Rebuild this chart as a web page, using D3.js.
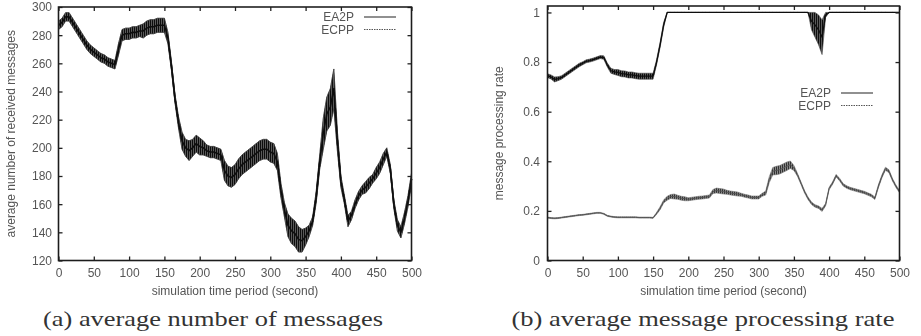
<!DOCTYPE html>
<html>
<head>
<meta charset="utf-8">
<script src="https://cdn.jsdelivr.net/npm/d3@7"></script>
<style>
  html, body { margin: 0; padding: 0; background: #fff; }
  svg { display: block; }
</style>
</head>
<body>
<svg id="chart" width="921" height="336"></svg>
<script>
// one reading every 5 seconds of simulation
const timeSteps = d3.range(0, 501, 5);
const timeTicks = [0, 50, 100, 150, 200, 250, 300, 350, 400, 450, 500];
const msgTicks = [120, 140, 160, 180, 200, 220, 240, 260, 280, 300];
const rateTicks = [0, 0.2, 0.4, 0.6, 0.8, 1];
const seriesNames = ["EA2P", "ECPP"];

// (a) received messages: middle of the noisy trace and half of its spread
const ea2pMsgMid = [
  287, 289, 293, 293, 289, 285, 281, 277, 273, 270,
  268, 266, 264, 263, 261, 260, 259, 270, 280, 281,
  281, 282, 282, 283, 283, 285, 286, 286, 287, 287,
  287, 278, 258, 235, 218, 205, 200, 198, 200, 203,
  201, 200, 198, 197, 197, 196, 195, 184, 180, 179,
  181, 185, 188, 190, 192, 194, 196, 198, 199, 199,
  197, 196, 190, 170, 156, 145, 141, 139, 135, 134,
  137, 141, 148, 165, 190, 210, 224, 229, 242, 205,
  176, 163, 148, 152, 160, 166, 170, 172, 175, 178,
  182, 186, 192, 197, 185, 160, 145, 140, 150, 162,
  178
];
const ea2pMsgSpread = [
  3, 3, 3, 3, 3, 3, 3, 3, 3, 3,
  3, 3, 3, 3, 3, 3, 3, 4, 4, 4,
  4, 4, 4, 4, 5, 5, 5, 5, 5, 5,
  5, 4, 3, 3, 4, 6, 6, 7, 6, 6,
  6, 5, 4, 4, 4, 4, 4, 7, 7, 7,
  7, 7, 7, 7, 7, 7, 7, 7, 7, 7,
  7, 7, 6, 5, 5, 8, 9, 9, 9, 8,
  6, 4, 3, 4, 5, 11, 12, 13, 14, 7,
  4, 3, 4, 3, 3, 3, 3, 4, 4, 3,
  4, 4, 4, 3, 3, 3, 4, 4, 4, 4,
  4
];
// the ECPP trace lies right on top of EA2P in (a)
const ecppMsgMid = ea2pMsgMid;
const ecppMsgSpread = ea2pMsgSpread;

// (b) message processing rate
const ea2pRateMid = [
  0.745, 0.74, 0.73, 0.733, 0.738, 0.748, 0.758, 0.768, 0.778, 0.788,
  0.795, 0.803, 0.806, 0.81, 0.815, 0.82, 0.818, 0.788, 0.765, 0.76,
  0.758, 0.753, 0.752, 0.748, 0.748, 0.745, 0.743, 0.743, 0.743, 0.743,
  0.743, 0.8, 0.87, 0.95, 1, 1, 1, 1, 1, 1,
  1, 1, 1, 1, 1, 1, 1, 1, 1, 1,
  1, 1, 1, 1, 1, 1, 1, 1, 1, 1,
  1, 1, 1, 1, 1, 1, 1, 1, 1, 1,
  1, 1, 1, 1, 1, 0.965, 0.95, 0.93, 0.9, 0.99,
  1, 1, 1, 1, 1, 1, 1, 1, 1, 1,
  1, 1, 1, 1, 1, 1, 1, 1, 1, 1,
  1
];
const ea2pRateSpread = [
  0.008, 0.008, 0.01, 0.008, 0.007, 0.007, 0.007, 0.007, 0.007, 0.007,
  0.006, 0.006, 0.006, 0.006, 0.006, 0.006, 0.007, 0.008, 0.01, 0.01,
  0.012, 0.012, 0.012, 0.012, 0.012, 0.012, 0.012, 0.012, 0.012, 0.012,
  0.012, 0.01, 0.01, 0.01, 0, 0, 0, 0, 0, 0,
  0, 0, 0, 0, 0, 0, 0, 0, 0, 0,
  0, 0, 0, 0, 0, 0, 0, 0, 0, 0,
  0, 0, 0, 0, 0, 0, 0, 0, 0, 0,
  0, 0, 0, 0, 0, 0.035, 0.05, 0.06, 0.07, 0.01,
  0, 0, 0, 0, 0, 0, 0, 0, 0, 0,
  0, 0, 0, 0, 0, 0, 0, 0, 0, 0,
  0
];
const ecppRateMid = [
  0.173, 0.171, 0.17, 0.171, 0.173, 0.175, 0.177, 0.179, 0.181, 0.183,
  0.184, 0.186, 0.188, 0.19, 0.192, 0.192, 0.188, 0.18, 0.177, 0.175,
  0.174, 0.174, 0.174, 0.174, 0.174, 0.174, 0.173, 0.173, 0.173, 0.173,
  0.172, 0.19, 0.211, 0.238, 0.251, 0.258, 0.258, 0.255, 0.251, 0.249,
  0.247, 0.249, 0.251, 0.253, 0.254, 0.256, 0.258, 0.278, 0.282, 0.28,
  0.278, 0.275, 0.272, 0.27, 0.268, 0.265, 0.261, 0.258, 0.254, 0.254,
  0.254, 0.265, 0.272, 0.326, 0.36, 0.363, 0.366, 0.373, 0.38, 0.386,
  0.373, 0.346, 0.312, 0.278, 0.251, 0.231, 0.22, 0.215, 0.204, 0.225,
  0.29, 0.312, 0.342, 0.326, 0.305, 0.296, 0.29, 0.286, 0.282, 0.278,
  0.274, 0.268, 0.262, 0.251, 0.299, 0.339, 0.37, 0.36, 0.326, 0.299,
  0.278
];
const ecppRateSpread = [
  0.002, 0.002, 0.002, 0.002, 0.002, 0.002, 0.002, 0.002, 0.002, 0.002,
  0.002, 0.002, 0.002, 0.002, 0.002, 0.002, 0.002, 0.002, 0.002, 0.002,
  0.002, 0.002, 0.002, 0.002, 0.002, 0.002, 0.002, 0.002, 0.002, 0.002,
  0.002, 0.004, 0.006, 0.006, 0.008, 0.008, 0.01, 0.008, 0.008, 0.008,
  0.006, 0.006, 0.006, 0.006, 0.006, 0.006, 0.006, 0.008, 0.01, 0.01,
  0.01, 0.008, 0.008, 0.008, 0.008, 0.006, 0.006, 0.006, 0.006, 0.006,
  0.006, 0.006, 0.008, 0.012, 0.015, 0.017, 0.017, 0.017, 0.017, 0.015,
  0.01, 0.006, 0.005, 0.005, 0.005, 0.005, 0.005, 0.005, 0.006, 0.005,
  0.005, 0.005, 0.005, 0.005, 0.005, 0.005, 0.005, 0.005, 0.005, 0.005,
  0.005, 0.005, 0.005, 0.005, 0.006, 0.006, 0.006, 0.006, 0.005, 0.005,
  0.005
];

const svg = d3.select("#chart");
const sans = "Liberation Sans, Arial, sans-serif";
const textGrey = "#555";

let defs = svg.append("defs");

// the scan is slightly soft
defs.append("filter")
  .attr("id", "soft")
  .append("feGaussianBlur")
  .attr("stdDeviation", 0.45);

// vertical jitter texture for the noisy bands
function stripes(id, dark, light) {
  let pat = defs.append("pattern")
    .attr("id", id)
    .attr("patternUnits", "userSpaceOnUse")
    .attr("width", 2)
    .attr("height", 4);
  pat.append("rect").attr("width", 2).attr("height", 4).attr("fill", light);
  pat.append("rect").attr("width", 1).attr("height", 4).attr("fill", dark);
}
stripes("jitterDark", "#111", "#5a5a5a");
stripes("jitterGrey", "#333", "#8a8a8a");

function drawPanel(p) {
  let x = d3.scaleLinear().domain([0, 500]).range([p.left, p.right]);
  let y = d3.scaleLinear().domain(p.yDomain).range([p.bottom, p.top]);

  let g = svg.append("g").attr("filter", "url(#soft)");

  // noisy traces: a band between the low and high readings, plus the middle line
  p.series.forEach((s) => {
    let rows = timeSteps.map((t, i) => ({
      t: t,
      mid: s.mid[i],
      lo: s.mid[i] - s.spread[i],
      hi: s.mid[i] + s.spread[i]
    }));
    g.append("path")
      .datum(rows)
      .attr("d", d3.area().x((d) => x(d.t)).y0((d) => y(d.lo)).y1((d) => y(d.hi)))
      .attr("fill", "url(#" + s.texture + ")")
      .attr("stroke", s.edge)
      .attr("stroke-width", 0.6);
    g.append("path")
      .datum(rows)
      .attr("d", d3.line().x((d) => x(d.t)).y((d) => y(d.mid)))
      .attr("fill", "none")
      .attr("stroke", s.color)
      .attr("stroke-width", s.width)
      .attr("stroke-linejoin", "round");
  });

  // axes with inward ticks on all four sides
  let bottom = g.append("g")
    .attr("transform", "translate(0," + p.bottom + ")")
    .call(d3.axisBottom(x).tickValues(timeTicks).tickSize(-4).tickPadding(8));
  g.append("g")
    .attr("transform", "translate(0," + p.top + ")")
    .call(d3.axisTop(x).tickValues(timeTicks).tickSize(-4).tickFormat(""));
  let left = g.append("g")
    .attr("transform", "translate(" + p.left + ",0)")
    .call(d3.axisLeft(y).tickValues(p.yTicks).tickSize(-4).tickPadding(p.yPad).tickFormat(d3.format("")));
  g.append("g")
    .attr("transform", "translate(" + p.right + ",0)")
    .call(d3.axisRight(y).tickValues(p.yTicks).tickSize(-4).tickFormat(""));

  g.selectAll(".domain").remove();
  g.selectAll(".tick line").attr("stroke", "#222").attr("stroke-width", 1.3);
  [bottom, left].forEach((a) =>
    a.selectAll("text")
      .attr("font-family", sans)
      .attr("font-size", 12)
      .attr("fill", textGrey)
  );

  // frame
  g.append("rect")
    .attr("x", p.left)
    .attr("y", p.top)
    .attr("width", p.right - p.left)
    .attr("height", p.bottom - p.top)
    .attr("fill", "none")
    .attr("stroke", "#1e1e1e")
    .attr("stroke-width", 1.6);

  // axis titles
  g.append("text")
    .attr("x", (p.left + p.right) / 2)
    .attr("y", 291)
    .attr("dy", "0.35em")
    .attr("text-anchor", "middle")
    .attr("font-family", sans)
    .attr("font-size", 12)
    .attr("fill", textGrey)
    .text("simulation time period (second)");
  g.append("text")
    .attr("transform", "translate(" + p.yTitleX + "," + (p.top + p.bottom) / 2 + ") rotate(-90)")
    .attr("dy", "0.35em")
    .attr("text-anchor", "middle")
    .attr("font-family", sans)
    .attr("font-size", 12)
    .attr("fill", textGrey)
    .text(p.yTitle);

  // legend
  let legend = g.append("g");
  seriesNames.forEach((name, i) => {
    let ly = p.legendY + i * 12.5;
    legend.append("text")
      .attr("x", p.legendX)
      .attr("y", ly)
      .attr("dy", "0.35em")
      .attr("text-anchor", "end")
      .attr("font-family", sans)
      .attr("font-size", 12)
      .attr("fill", textGrey)
      .text(name);
    legend.append("line")
      .attr("x1", p.legendX + 10)
      .attr("x2", p.legendX + 42)
      .attr("y1", ly)
      .attr("y2", ly)
      .attr("stroke", i === 0 ? "#333" : "#555")
      .attr("stroke-width", 1.1)
      .attr("stroke-dasharray", i === 0 ? null : "1.5,1");
  });

  // caption under the panel (thin serif like the paper's text)
  svg.append("text")
    .attr("x", p.captionX)
    .attr("y", 326)
    .attr("text-anchor", "middle")
    .attr("font-family", "Liberation Serif, Times New Roman, serif")
    .attr("font-size", 21)
    .attr("fill", "#333")
    .attr("textLength", p.captionWidth)
    .attr("lengthAdjust", "spacingAndGlyphs")
    .text(p.caption);
}

drawPanel({
  left: 58.5, right: 411.5, top: 7, bottom: 260.5,
  yDomain: [120, 300], yTicks: msgTicks, yPad: 6.5,
  yTitle: "average number of received messages", yTitleX: 11,
  legendX: 354, legendY: 17,
  caption: "(a) average number of messages", captionX: 213, captionWidth: 340,
  series: [
    { mid: ea2pMsgMid, spread: ea2pMsgSpread, color: "#111", width: 1.6, texture: "jitterDark", edge: "#444" },
    { mid: ecppMsgMid, spread: ecppMsgSpread, color: "#111", width: 1.6, texture: "jitterDark", edge: "#444" }
  ]
});

drawPanel({
  left: 547.5, right: 899.5, top: 6, bottom: 260.5,
  yDomain: [0, 1.026], yTicks: rateTicks, yPad: 7.5,
  yTitle: "message processing rate", yTitleX: 499,
  legendX: 831, legendY: 93,
  caption: "(b) average message processing rate", captionX: 703, captionWidth: 383,
  series: [
    { mid: ea2pRateMid, spread: ea2pRateSpread, color: "#111", width: 1.3, texture: "jitterDark", edge: "#444" },
    { mid: ecppRateMid, spread: ecppRateSpread, color: "#555", width: 1, texture: "jitterGrey", edge: "#777" }
  ]
});
</script>
</body>
</html>
